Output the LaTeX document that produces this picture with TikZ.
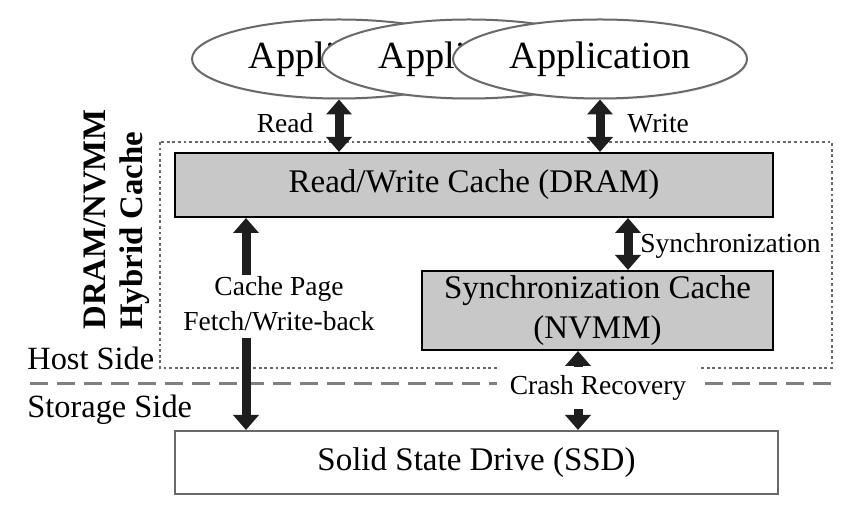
\documentclass[tikz,border=0pt]{standalone}
\usepackage{fontspec}
\setmainfont{Liberation Serif}
\usetikzlibrary{positioning}
\usetikzlibrary{arrows.meta}
\usetikzlibrary{shapes.geometric}
\usetikzlibrary{shadows}
\usepackage{xcolor}

\definecolor{cachegray}{RGB}{200,200,200}
\definecolor{framegray}{RGB}{105,105,105}
\definecolor{arrowblack}{RGB}{30,30,30}

\tikzset{
  app/.style={ellipse, draw=framegray, line width=1pt, fill=white,
    minimum width=147pt, minimum height=39.5pt, inner sep=0pt,
    font=\fontsize{19.2}{23}\selectfont,
    drop shadow={shadow xshift=0.5pt, shadow yshift=-0.8pt, opacity=0.15}},
  cachebox/.style={draw=black, line width=1pt, fill=cachegray, inner sep=0pt,
    align=center, font=\fontsize{16.5}{20}\selectfont},
  ssdbox/.style={draw=framegray, line width=1pt, fill=white, inner sep=0pt,
    font=\fontsize{16.5}{20}\selectfont},
  lbl/.style={inner sep=0pt, align=center, font=\fontsize{13.75}{17.5}\selectfont},
  sidelbl/.style={inner sep=0pt, font=\fontsize{16.2}{19}\selectfont},
  bigarrow/.style={arrowblack, line width=4.5pt,
    {Triangle[width=12.5pt,length=7.5pt]}-{Triangle[width=12.5pt,length=7.5pt]}},
  onearrow/.style={arrowblack, line width=4.5pt, -{Triangle[width=12.5pt,length=7.5pt]}},
}

\begin{document}
\begin{tikzpicture}[x=0.5pt,y=-0.5pt]

\useasboundingbox (0,0) rectangle (862,512);

% frames
{
\draw[framegray, line width=0.75pt, dash pattern=on 1.4pt off 1.4pt] (160,142) rectangle (832,368);
\draw[gray, line width=1.5pt, dash pattern=on 9pt off 4.5pt] (30,384) -- (836,384);
}

% boxes
{
\node[app] (app1) at (339,59) {Application};
\node[app] (app2) at (469,59) {Application};
\node[app] (app3) at (600,59) {Application};

\node[cachebox, minimum width=299pt, minimum height=32pt] (dram) at (474,185)
  {Read/Write Cache (DRAM)};
\node[cachebox, minimum width=175.5pt, minimum height=39.5pt] (nvmm) at (597.5,310.5)
  {Synchronization Cache\\(NVMM)};
\node[ssdbox, minimum width=301.5pt, minimum height=31.5pt] (ssd) at (476.5,462.5)
  {Solid State Drive (SSD)};
}

% labellings
{
\node[lbl, anchor=base] (read) at (285,133) {Read};
\node[lbl, anchor=base west] (write) at (627,133) {Write};
\node[lbl, anchor=base west] (sync) at (640,253) {Synchronization};
\node[lbl] (cpage) at (279,304) {Cache Page\\Fetch/Write-back};

\node[inner sep=0pt, rotate=90, anchor=south west, align=left,
  font=\bfseries\fontsize{16.4}{18.5}\selectfont] (hybrid) at (150,330)
  {DRAM/NVMM\\Hybrid Cache};

\node[sidelbl, anchor=base west] (host) at (27,370) {Host Side};
\node[sidelbl, anchor=base west] (storage) at (27,418) {Storage Side};
}

% arrows
{
\coordinate (pagex) at (246,0);
\coordinate (syncx) at (628,0);
\coordinate (crashx) at (578,0);

\draw[bigarrow] (app1.south) -- (dram.north -| app1.south);
\draw[bigarrow] (app3.south) -- (dram.north -| app3.south);
\draw[bigarrow] (dram.south -| syncx) -- (nvmm.north -| syncx);

\draw[onearrow] ([yshift=0.5pt]cpage.north -| pagex) -- (dram.south -| pagex);
\draw[onearrow] ([yshift=-3pt]cpage.south -| pagex) -- (ssd.north -| pagex);

\draw[bigarrow] (nvmm.south -| crashx) -- (ssd.north -| crashx);
\node[lbl, fill=white, minimum width=101.5pt, minimum height=21pt] (crash) at (598,388)
  {Crash Recovery};
}

\end{tikzpicture}
\end{document}
